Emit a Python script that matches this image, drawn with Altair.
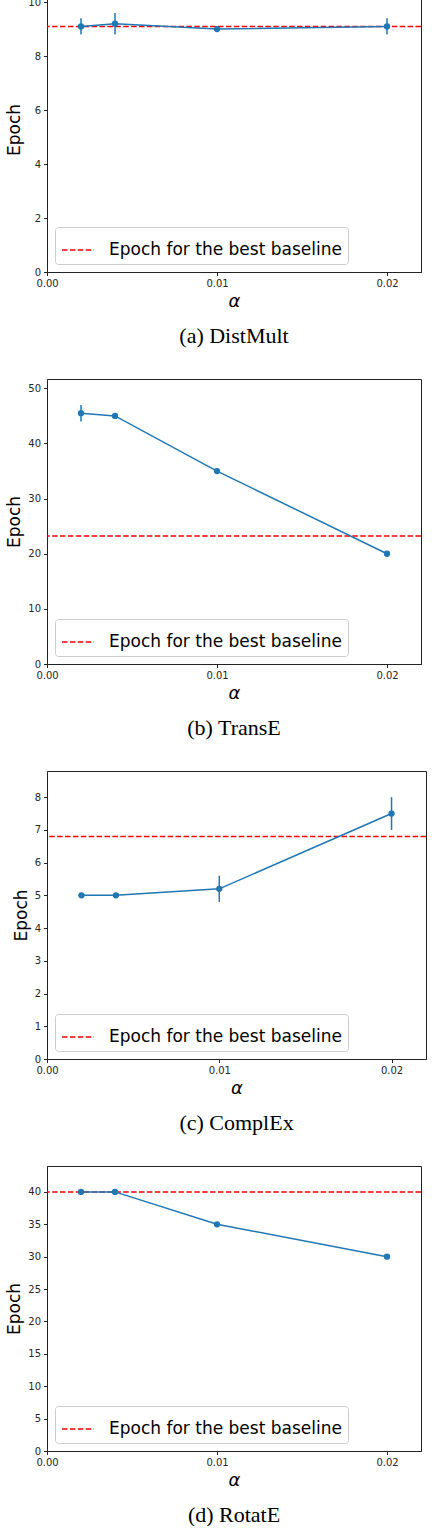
import altair as alt
import pandas as pd

# Learning-rate factor alpha used in every run
alpha = [0.002, 0.004, 0.01, 0.02]

# Mean epoch (and spread) needed per model
distmult_epoch = [9.1, 9.2, 9.0, 9.1]
distmult_err = [0.3, 0.4, 0.0, 0.3]
distmult_base = 9.1

transe_epoch = [45.5, 45.0, 35.0, 20.0]
transe_err = [1.5, 0.0, 0.0, 0.0]
transe_base = 23.2

complex_epoch = [5.0, 5.0, 5.2, 7.5]
complex_err = [0.0, 0.0, 0.4, 0.5]
complex_base = 6.8

rotate_epoch = [40.0, 40.0, 35.0, 30.0]
rotate_err = [0.0, 0.0, 0.0, 0.0]
rotate_base = 40.0

captions = ["(a) DistMult", "(b) TransE", "(c) ComplEx", "(d) RotatE"]
y_tops = [10.56, 51.7, 8.8, 44.0]
y_ticks = [
    [0, 2, 4, 6, 8, 10],
    [0, 10, 20, 30, 40, 50],
    [0, 1, 2, 3, 4, 5, 6, 7, 8],
    [0, 5, 10, 15, 20, 25, 30, 35, 40],
]
x_ticks = [0.0, 0.01, 0.02]
x_max = 0.022
legend_label = "Epoch for the best baseline"

BLUE = "#1f77b4"
SANS = "DejaVu Sans"


def panel(epoch, err, base, caption, y_top, ticks, width, height):
    df = pd.DataFrame({"alpha": alpha, "epoch": epoch, "err": err})
    x = alt.X(
        "alpha:Q",
        scale=alt.Scale(domain=[0, x_max], nice=False, zero=False),
        axis=alt.Axis(
            values=x_ticks, format=".2f", title="α", titleFontSize=18,
            titleFontStyle="italic", titlePadding=4,
        ),
    )
    y_scale = alt.Scale(domain=[0, y_top], nice=False)
    y = alt.Y(
        "epoch:Q",
        scale=y_scale,
        axis=alt.Axis(values=ticks, title="Epoch", titleFontSize=17, titlePadding=4),
    )

    base_df = pd.DataFrame({"epoch": [base], "series": [legend_label]})
    baseline = alt.Chart(base_df).mark_rule(
        strokeDash=[5.5, 2.4], strokeWidth=1.5
    ).encode(
        y=y,
        color=alt.Color(
            "series:N",
            scale=alt.Scale(domain=[legend_label], range=["red"]),
            legend=alt.Legend(
                title=None,
                orient="bottom-left",
                offset=8,
                symbolType="stroke",
                symbolSize=1024,
                symbolStrokeWidth=1.5,
                symbolDash=[5.5, 2.4],
                labelFont=SANS,
                labelFontSize=17,
                labelColor="black",
                labelOffset=14,
                labelLimit=0,
                padding=6,
                fillColor="rgba(255,255,255,0.85)",
                strokeColor="#cccccc",
                cornerRadius=3,
            ),
        ),
    )

    line = alt.Chart(df).mark_line(color=BLUE, strokeWidth=1.5).encode(x=x, y=y)
    bars = alt.Chart(df[df["err"] > 0]).mark_errorbar(
        color=BLUE, thickness=1.5, ticks=False
    ).encode(x=x, y=y, yError="err:Q")
    points = alt.Chart(df).mark_circle(color=BLUE, size=40, opacity=1).encode(x=x, y=y)

    return alt.layer(baseline, line, bars, points).properties(
        width=width,
        height=height,
        title=alt.TitleParams(
            caption,
            orient="bottom",
            font="Liberation Serif",
            fontSize=22,
            fontWeight="normal",
            color="black",
            anchor="middle",
            offset=15,
        ),
    )


panels = [
    panel(distmult_epoch, distmult_err, distmult_base, captions[0], y_tops[0], y_ticks[0], 374, 285),
    panel(transe_epoch, transe_err, transe_base, captions[1], y_tops[1], y_ticks[1], 374, 285),
    panel(complex_epoch, complex_err, complex_base, captions[2], y_tops[2], y_ticks[2], 379, 288),
    panel(rotate_epoch, rotate_err, rotate_base, captions[3], y_tops[3], y_ticks[3], 374, 285),
]

chart = alt.concat(*panels, columns=1, spacing=31, align="none").resolve_scale(
    color="independent"
).properties(
    padding={"left": 5, "top": -14, "right": 4, "bottom": 0},
).configure_view(
    stroke="#222222", strokeWidth=1
).configure_axis(
    domainColor="#222222",
    domainWidth=1,
    tickColor="#222222",
    tickSize=3.5,
    tickWidth=1,
    grid=False,
    labelFont=SANS,
    labelFontSize=10,
    labelColor="#262626",
    labelPadding=3,
    labelOverlap=False,
    titleFont=SANS,
    titleFontWeight="normal",
    titleColor="black",
).configure_axisX(
    labelFlush=False,
)

chart.save("out.html", embed_options={"renderer": "svg", "actions": False})
